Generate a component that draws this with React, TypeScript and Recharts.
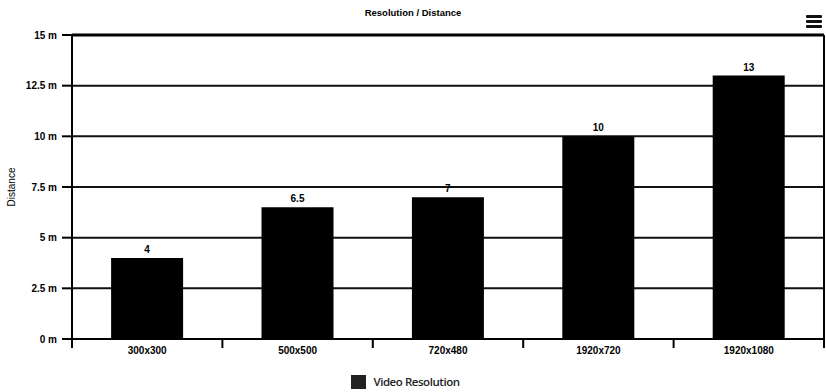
import React from 'react';
import { BarChart, Bar, XAxis, YAxis, CartesianGrid, LabelList, Legend, ReferenceLine } from 'recharts';

const categories = ['300x300', '500x500', '720x480', '1920x720', '1920x1080'];
const distances = [4, 6.5, 7, 10, 13];
const yTicks = [0, 2.5, 5, 7.5, 10, 12.5, 15];
const seriesName = 'Video Resolution';
const chartTitle = 'Resolution / Distance';
const yLabel = 'Distance';

const data = categories.map((c, i) => ({ name: c, value: distances[i] }));

const FONT = '"Liberation Sans", Arial, sans-serif';

const LegendContent = () => (
  <div style={{ display: 'flex', justifyContent: 'center', alignItems: 'center', height: 25, paddingTop: 4, boxSizing: 'border-box', marginLeft: -15 }}>
    <span style={{ display: 'inline-block', width: 15, height: 14, background: '#222', marginRight: 7 }} />
    <span style={{ fontFamily: '"Open Sans", sans-serif', fontSize: 11.5, fontWeight: 600, letterSpacing: -0.45, color: '#222' }}>{seriesName}</span>
  </div>
);

const CategoryTick = (props: any) => {
  const { x, y, payload, index, visibleTicksCount } = props;
  const half = payload.offset || 0;
  const top = y - 8;
  return (
    <g>
      <line x1={x - half} x2={x - half} y1={top} y2={top + 9} stroke="#000" strokeWidth={2} />
      {index === visibleTicksCount - 1 && (
        <line x1={x + half} x2={x + half} y1={top} y2={top + 9} stroke="#000" strokeWidth={2} />
      )}
      <text x={x} y={y} dy="0.71em" textAnchor="middle" fontFamily={FONT} fontSize={10} fontWeight="bold" fill="#000">
        {payload.value}
      </text>
    </g>
  );
};

export default function App() {
  return (
    <div style={{ position: 'absolute', left: 0, top: 0, width: 826, height: 392, background: '#fff' }}>
      <BarChart width={826} height={392} data={data} margin={{ top: 35, right: 0, left: 0, bottom: 0 }} barCategoryGap="26%">
        <CartesianGrid xAxisId="a" yAxisId="l" vertical={false} stroke="#111" strokeWidth={2} />
        <XAxis xAxisId="a" dataKey="name" height={28} tickLine={false} tickSize={6} tickMargin={2}
          axisLine={{ stroke: '#000', strokeWidth: 2 }} tick={CategoryTick} interval={0} />
        <YAxis yAxisId="l" domain={[0, 15]} ticks={yTicks} width={72} tickSize={10} tickMargin={5}
          tickFormatter={(v: number) => `${v} m`} stroke="#000" strokeWidth={2}
          tick={{ fontFamily: FONT, fontSize: 10, fontWeight: 'bold', fill: '#000' }}
          label={{ value: yLabel, angle: -90, position: 'insideLeft', offset: 11, style: { textAnchor: 'middle', fontFamily: FONT, fontSize: 10, fill: '#000' } }} />
        <YAxis yAxisId="r" orientation="right" width={2} tick={false} tickLine={false} stroke="#000" strokeWidth={2} domain={[0, 15]} />
        <ReferenceLine yAxisId="l" xAxisId="a" y={15} stroke="#000" strokeWidth={3} />
        <Bar xAxisId="a" yAxisId="l" dataKey="value" name={seriesName} fill="#000" isAnimationActive={false}>
          <LabelList dataKey="value" position="top" style={{ fontFamily: FONT, fontSize: 10, fontWeight: 'bold', fill: '#000' }} />
        </Bar>
        <Legend verticalAlign="bottom" height={25} content={LegendContent} />
      </BarChart>
      <div style={{ position: 'absolute', top: 7, left: 0, width: 826, textAlign: 'center', fontFamily: FONT, fontSize: 9.5, fontWeight: 'bold', color: '#000' }}>{chartTitle}</div>
      <div style={{ position: 'absolute', left: 806, top: 15, width: 16 }}>
        <div style={{ height: 3, background: '#111', borderRadius: 1, marginBottom: 2 }} />
        <div style={{ height: 3, background: '#111', borderRadius: 1, marginBottom: 2 }} />
        <div style={{ height: 3, background: '#111', borderRadius: 1 }} />
      </div>
    </div>
  );
}
